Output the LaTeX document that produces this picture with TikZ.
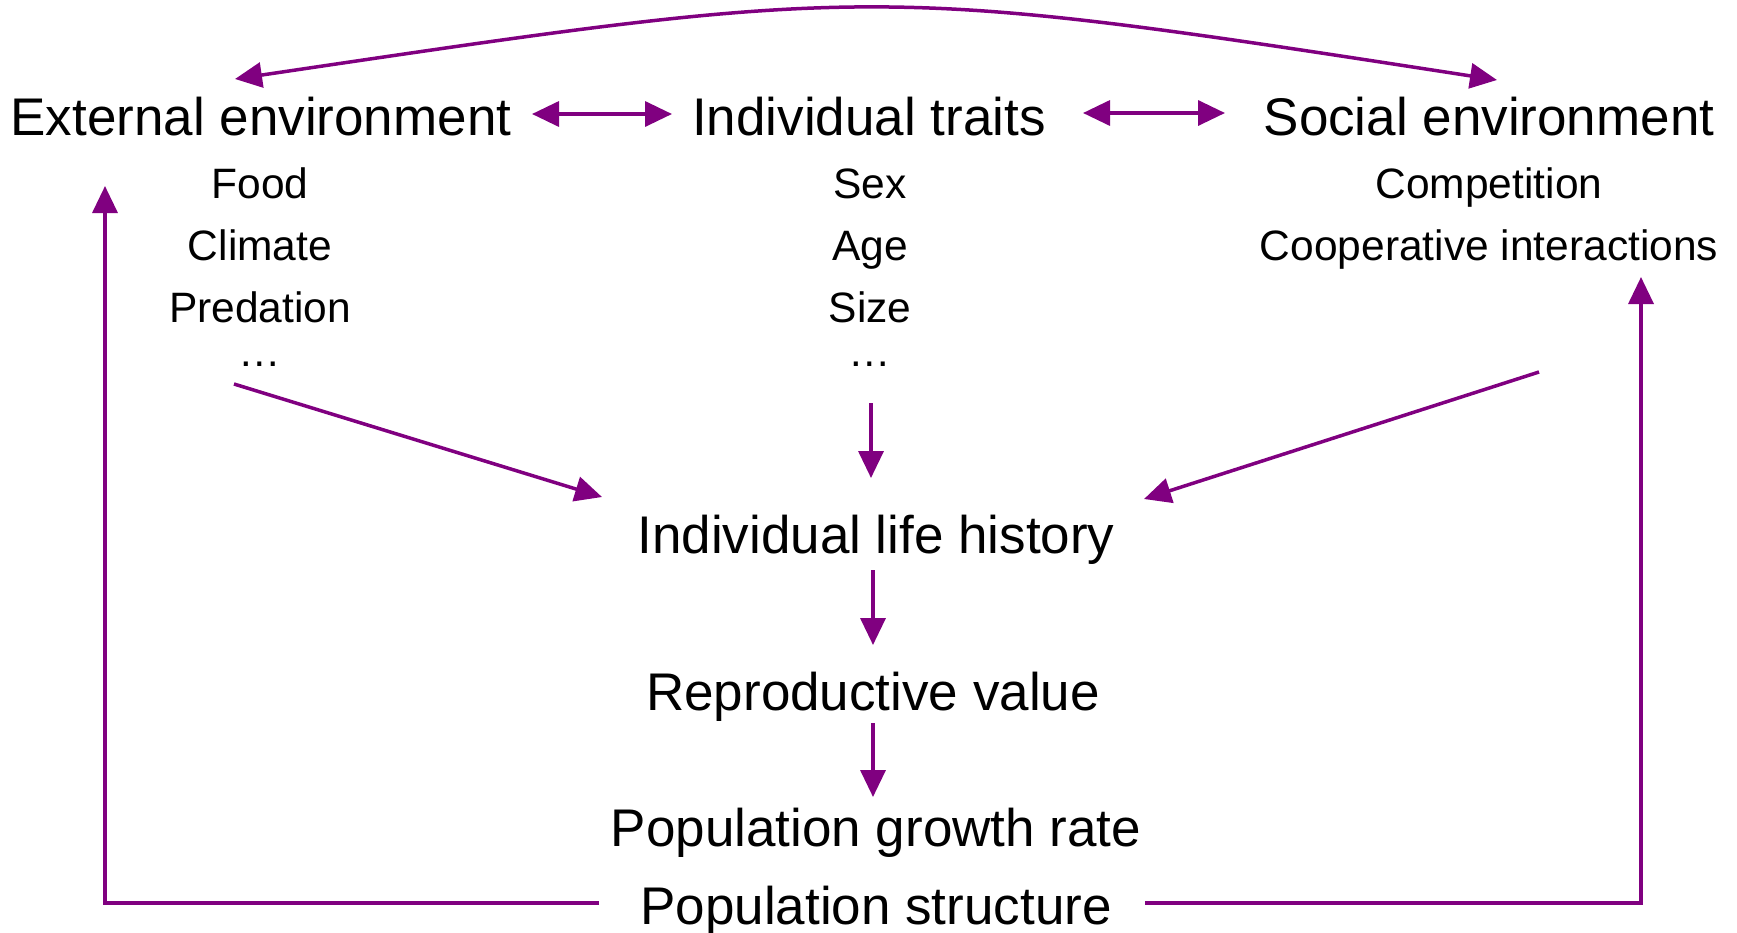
\documentclass[tikz,border=0pt]{standalone}
\usepackage{fontspec}
\setmainfont{Liberation Sans}
\usetikzlibrary{arrows.meta}
\definecolor{lilac}{HTML}{800080}
\begin{document}
\begin{tikzpicture}[x=1pt,y=-1pt,
  big/.style={font=\fontsize{53}{60}\selectfont, inner sep=0pt, anchor=base},
  small/.style={font=\fontsize{42.5}{50}\selectfont, inner sep=0pt, anchor=base},
  tip/.tip={Triangle[length=27pt,width=25pt]},
  link/.style={draw=lilac, line width=3.5pt, -tip},
  both/.style={draw=lilac, line width=3.5pt, tip-tip},
  plain/.style={draw=lilac, line width=3.5pt}]
\useasboundingbox (0,0) rectangle (1737,932);

% top row
\node[big] (ext) at (261,135) {External environment};
\node[big] (trait) at (869,135) {Individual traits};
\node[big] (soc) at (1489,135) {Social environment};

% lists
\node[small] (food) at (260,198) {Food};
\node[small] (clim) at (260,260) {Climate};
\node[small] (pred) at (260,322) {Predation};
\node[small] (edots) at (260,366) {…};

\node[small] (sex) at (870,198) {Sex};
\node[small] (age) at (870,260) {Age};
\node[small] (size) at (870,322) {Size};
\node[small] (tdots) at (870,366) {…};

\node[small] (comp) at (1489,198) {Competition};
\node[small] (coop) at (1489,260) {Cooperative interactions};

% centre column
\node[big] (life) at (876,553) {Individual life history};
\node[big] (repr) at (873,710) {Reproductive value};
\node[big] (grow) at (876,846) {Population growth rate};
\node[big] (pstr) at (876,924) {Population structure};

% connector end points
\coordinate (c1a) at (532,114);
\coordinate (c1b) at (672,114);
\coordinate (c2a) at (1083,113);
\coordinate (c2b) at (1225,113);
\coordinate (topL) at (235,79);
\coordinate (topR) at (1497,80);
\coordinate (topC) at (875,-16);
\coordinate (dLs) at (234,384);
\coordinate (dLe) at (602,497);
\coordinate (dMs) at (871,403);
\coordinate (dMe) at (871,478);
\coordinate (dRs) at (1539,372);
\coordinate (dRe) at (1144,499);
\coordinate (v1s) at (873,570);
\coordinate (v1e) at (873,645);
\coordinate (v2s) at (873,723);
\coordinate (v2e) at (873,797);
\coordinate (bL) at (599,903);
\coordinate (cL) at (105,903);
\coordinate (tL) at (105,186);
\coordinate (bR) at (1145,903);
\coordinate (cR) at (1641,903);
\coordinate (tR) at (1641,277);

\draw[both] (c1a) -- (c1b);
\draw[both] (c2a) -- (c2b);
\draw[both] (topL) .. controls (topC) .. (topR);
\draw[link] (dLs) -- (dLe);
\draw[link] (dMs) -- (dMe);
\draw[link] (dRs) -- (dRe);
\draw[link] (v1s) -- (v1e);
\draw[link] (v2s) -- (v2e);
\draw[link] (bL) -- (cL) -- (tL);
\draw[link] (bR) -- (cR) -- (tR);
\end{tikzpicture}
\end{document}
